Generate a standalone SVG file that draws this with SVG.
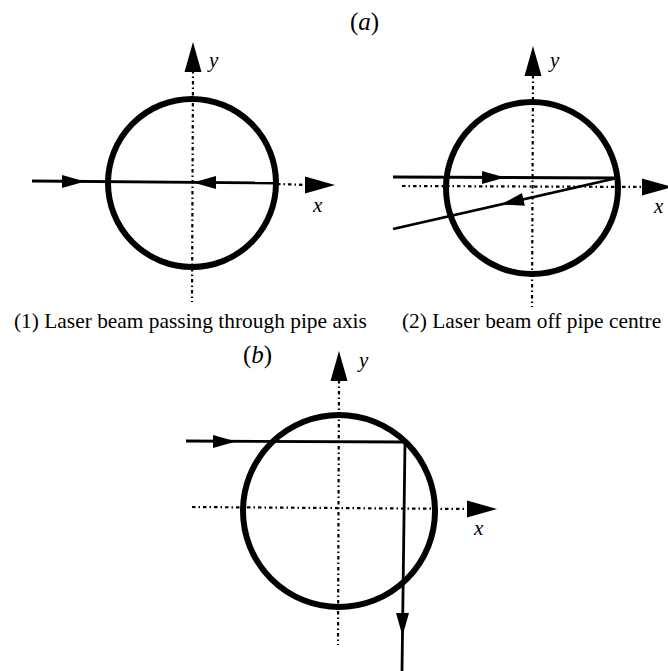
<svg xmlns="http://www.w3.org/2000/svg" xmlns:xlink="http://www.w3.org/1999/xlink" width="668" height="671" viewBox="0 0 668 671">
<style>
.pipe{fill:none;stroke:#000;stroke-width:6}
.axis{fill:none;stroke:#000;stroke-width:2.2;stroke-dasharray:3.5 3 1.5 3}
.beam{fill:none;stroke:#000;stroke-width:2.8}
.lbl{font-family:"Liberation Serif",serif;font-style:italic;font-size:21px;fill:#000}
.cap{font-family:"Liberation Serif",serif;font-size:21.4px;fill:#000}
.tag{font-family:"Liberation Serif",serif;font-size:25px;fill:#000}
</style>
<defs>
<path id="ah" d="M0,0 L-23,-6.5 L-23,6.5 Z" fill="#000"/>
<path id="axh" d="M0,0 L-30,-8.5 L-30,8.5 Z" fill="#000"/>
</defs>
<rect width="668" height="671" fill="#fff"/>

<text class="tag" x="350" y="30">(<tspan font-style="italic">a</tspan>)</text>

<g id="panel-a1">
<line class="axis" x1="193" y1="70" x2="192" y2="302"/>
<use xlink:href="#axh" transform="translate(193,42) rotate(-90)"/>
<text class="lbl" x="209" y="67">y</text>
<line class="axis" x1="277" y1="184" x2="308" y2="185"/>
<use xlink:href="#axh" transform="translate(335,185)"/>
<text class="lbl" x="313" y="212">x</text>
<circle class="pipe" cx="192" cy="183" r="84"/>
<line class="beam" x1="32" y1="181" x2="277" y2="183"/>
<use xlink:href="#ah" transform="translate(85,181.5)"/>
<use xlink:href="#ah" transform="translate(193,182.5) rotate(180)"/>
</g>
<text class="cap" x="14" y="328">(1) Laser beam passing through pipe axis</text>

<g id="panel-a2">
<line class="axis" x1="533" y1="75" x2="532" y2="307"/>
<use xlink:href="#axh" transform="translate(533,46) rotate(-90)"/>
<text class="lbl" x="550" y="67">y</text>
<line class="axis" x1="402" y1="186" x2="650" y2="187"/>
<use xlink:href="#axh" transform="translate(672,187)"/>
<text class="lbl" x="654" y="213">x</text>
<circle class="pipe" cx="532" cy="188" r="86"/>
<line class="beam" x1="393" y1="177" x2="617" y2="178"/>
<use xlink:href="#ah" transform="translate(505,177.5)"/>
<line class="beam" x1="617" y1="178" x2="393" y2="229"/>
<use xlink:href="#ah" transform="translate(501,204.5) rotate(167.2)"/>
</g>
<text class="cap" x="402" y="328">(2) Laser beam off pipe centre</text>

<text class="tag" x="243" y="363">(<tspan font-style="italic">b</tspan>)</text>

<g id="panel-b">
<line class="axis" x1="339" y1="380" x2="338" y2="645"/>
<use xlink:href="#axh" transform="translate(339,351) rotate(-90)"/>
<text class="lbl" x="359" y="367">y</text>
<line class="axis" x1="192" y1="507" x2="470" y2="509"/>
<use xlink:href="#axh" transform="translate(497,509)"/>
<text class="lbl" x="474" y="535">x</text>
<circle class="pipe" cx="339" cy="511" r="96"/>
<line class="beam" x1="186" y1="441" x2="405" y2="442"/>
<use xlink:href="#ah" transform="translate(236,441.5)"/>
<line class="beam" x1="405" y1="442" x2="402" y2="671"/>
<use xlink:href="#ah" transform="translate(402.5,636) rotate(90)"/>
</g>
</svg>
